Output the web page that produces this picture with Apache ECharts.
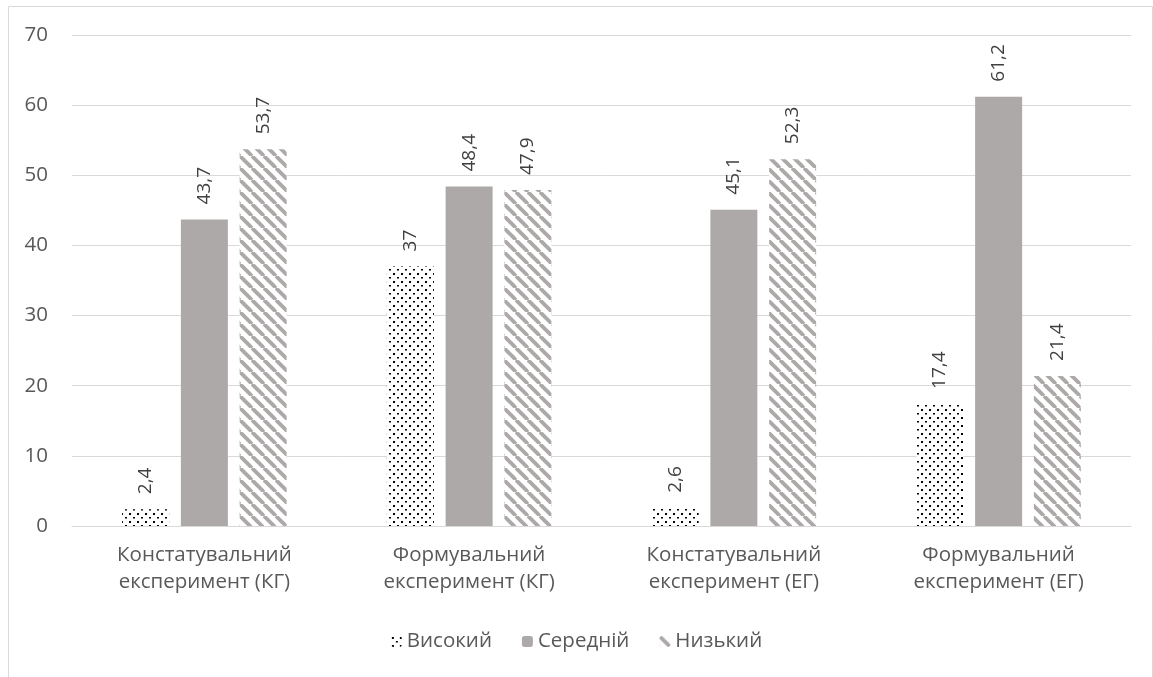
<!DOCTYPE html>
<html><head><meta charset="utf-8">
<script src="https://cdn.jsdelivr.net/npm/echarts@6/dist/echarts.min.js"></script>
<style>html,body{margin:0;padding:0;background:#fff}#c{width:1153px;height:677px}</style>
</head><body><div id="c"></div>
<script>
const categories = ['Констатувальний\nексперимент (КГ)','Формувальний\nексперимент (КГ)','Констатувальний\nексперимент (ЕГ)','Формувальний\nексперимент (ЕГ)'];
const seriesNames = ['Високий','Середній','Низький'];
const high = [2.4, 37, 2.6, 17.4];
const mid = [43.7, 48.4, 45.1, 61.2];
const low = [53.7, 47.9, 52.3, 21.4];
const yTicks = [0,10,20,30,40,50,60,70];

function dotPattern(){
  const c = document.createElement('canvas'); c.width = 8; c.height = 8;
  const g = c.getContext('2d'); g.fillStyle='#fff'; g.fillRect(0,0,8,8);
  g.fillStyle='#000';
  g.fillRect(1,1,2,2); g.fillRect(5,5,2,1.5);
  return c;
}
function stripePattern(){
  const s = 12;
  const c = document.createElement('canvas'); c.width = s; c.height = s;
  const g = c.getContext('2d'); g.fillStyle='#fff'; g.fillRect(0,0,s,s);
  g.strokeStyle='#ADA9A8'; g.lineWidth=3.8;
  for (let k=-1;k<=1;k++){
    g.beginPath(); g.moveTo(k*s,0); g.lineTo(k*s+s,s); g.stroke();
  }
  return c;
}
const FONT = 'Open Sans';
const chart = echarts.init(document.getElementById('c'));
const lbl = {show:true, position:'top', rotate:90, align:'left', verticalAlign:'middle', distance:15, color:'#404040', fontSize:19, fontFamily:FONT, formatter: p => String(p.value).replace('.',',')};
chart.setOption({
  animation:false,
  graphic:[{type:'rect', shape:{x:8.5,y:6.5,width:1144,height:690}, style:{fill:'none', stroke:'#d9d9d9', lineWidth:1}}],
  legend:{bottom:20, left:'center', itemWidth:11, itemHeight:11, itemGap:30, textStyle:{color:'#595959', fontSize:20.5, fontFamily:FONT}, data:seriesNames},
  grid:{left:72, right:22, top:35, bottom:151},
  xAxis:{type:'category', data:categories, axisTick:{show:false}, axisLine:{lineStyle:{color:'#d9d9d9'}},
    axisLabel:{color:'#595959', fontSize:20.5, fontFamily:FONT, lineHeight:27, margin:16}},
  yAxis:{type:'value', min:0, max:70, interval:10, axisLabel:{color:'#595959', fontSize:20.5, fontFamily:FONT, margin:24, formatter: v => yTicks.includes(v) ? String(v) : ''},
    splitLine:{lineStyle:{color:'#d9d9d9', width:1}}, axisLine:{show:false}, axisTick:{show:false}},
  series:[
    {name:seriesNames[0], type:'bar', data:high, barWidth:47, barGap:'25%', itemStyle:{color:{image:dotPattern(), repeat:'repeat'}}, label:lbl},
    {name:seriesNames[1], type:'bar', data:mid, barWidth:47, barGap:'25%', itemStyle:{color:'#ADA9A8'}, label:lbl},
    {name:seriesNames[2], type:'bar', data:low, barWidth:47, barGap:'25%', itemStyle:{color:{image:stripePattern(), repeat:'repeat'}}, label:lbl}
  ]
});
</script></body></html>
